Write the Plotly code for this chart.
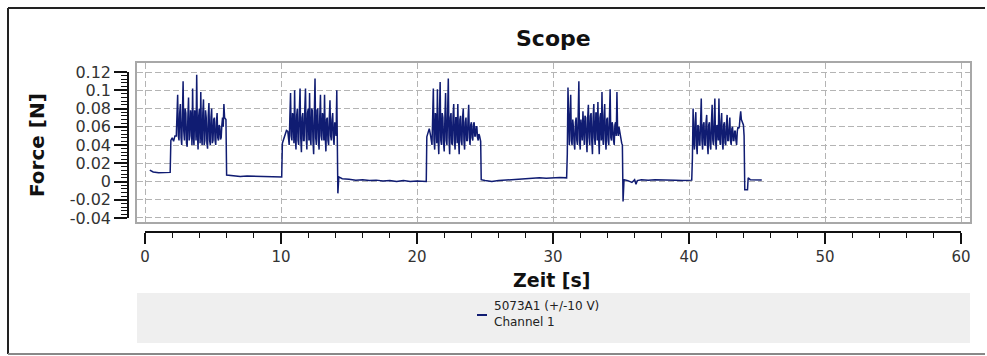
import plotly.graph_objects as go

# ---- data ----
SAMPLE_DT = 0.05  # scope sample period inside the bursts [s]

# quiet stretches and edges: (time [s], force [N])
quiet0 = [(0.35, 0.0125), (0.6, 0.0105), (1.0, 0.0095), (1.5, 0.0095), (1.85, 0.0100)]
rise1 = [(1.9, 0.045), (2.0, 0.048), (2.1, 0.044), (2.2, 0.050)]
drop1 = [(5.95, 0.068)]
quiet1 = [(6.0, 0.007), (6.5, 0.0065), (7.0, 0.0055), (7.5, 0.006), (8.0, 0.0058),
          (8.5, 0.0052), (9.0, 0.0055), (9.5, 0.005), (10.05, 0.005)]
rise2 = [(10.1, 0.042), (10.2, 0.046), (10.3, 0.050), (10.4, 0.056)]
drop2 = [(14.15, 0.040), (14.18, -0.013)]
quiet2 = [(14.25, 0.005), (14.5, 0.003), (15.0, 0.0025), (15.5, 0.0015), (16.0, 0.002),
          (16.5, 0.001), (17.0, 0.0015), (17.5, 0.0005), (18.0, 0.001), (18.5, 0.0),
          (19.0, 0.001), (19.5, 0.0), (20.0, 0.0005), (20.68, 0.0)]
rise3 = [(20.72, 0.049), (20.8, 0.052), (20.9, 0.058), (21.0, 0.050)]
drop3 = [(24.68, 0.044)]
quiet3 = [(24.72, 0.002), (25.0, 0.001), (25.5, 0.0), (26.0, 0.001), (26.5, 0.0015),
          (27.0, 0.002), (27.5, 0.0025), (28.0, 0.003), (28.5, 0.0035), (29.0, 0.004),
          (29.5, 0.0035), (30.0, 0.004), (30.5, 0.0045), (31.0, 0.004)]
rise4 = [(31.05, 0.030)]
drop4 = [(35.15, -0.022)]
quiet4 = [(35.22, 0.002), (35.5, 0.001), (35.8, -0.001), (36.0, 0.002), (36.1, -0.003),
          (36.2, 0.001), (36.5, 0.002), (37.0, 0.0015), (37.5, 0.002), (38.0, 0.002),
          (38.5, 0.0015), (39.0, 0.0015), (39.5, 0.001), (40.2, 0.0015)]
rise5 = [(40.25, 0.026)]
drop5 = [(44.1, -0.009), (44.3, -0.009)]
quiet5 = [(44.35, 0.004), (44.5, 0.002), (45.0, 0.0017), (45.35, 0.0017)]

# oscillating parts of the bursts, sampled every SAMPLE_DT from the given start time
osc1_start = 2.30
osc1 = [0.050, 0.070, 0.095, 0.050, 0.045, 0.075, 0.085, 0.048, 0.040, 0.072,
        0.110, 0.055, 0.045, 0.080, 0.075, 0.042, 0.038, 0.070, 0.092, 0.045,
        0.050, 0.078, 0.070, 0.040, 0.102, 0.050, 0.040, 0.078, 0.075, 0.045,
        0.117, 0.055, 0.035, 0.072, 0.080, 0.042, 0.098, 0.050, 0.040, 0.075,
        0.090, 0.040, 0.045, 0.078, 0.070, 0.042, 0.036, 0.072, 0.086, 0.045,
        0.040, 0.070, 0.080, 0.042, 0.045, 0.068, 0.070, 0.045, 0.040, 0.065,
        0.075, 0.048, 0.045, 0.062, 0.060, 0.046, 0.048, 0.062, 0.070, 0.060,
        0.085, 0.070, 0.068]
osc2_start = 10.50
osc2 = [0.055, 0.048, 0.040, 0.070, 0.097, 0.050, 0.045, 0.075, 0.070, 0.042,
        0.100, 0.050, 0.035, 0.072, 0.080, 0.045, 0.040, 0.078, 0.102, 0.048,
        0.032, 0.070, 0.075, 0.045, 0.045, 0.080, 0.102, 0.050, 0.035, 0.075,
        0.080, 0.045, 0.097, 0.048, 0.040, 0.080, 0.078, 0.045, 0.030, 0.075,
        0.113, 0.048, 0.040, 0.078, 0.080, 0.045, 0.035, 0.072, 0.095, 0.050,
        0.045, 0.075, 0.070, 0.045, 0.095, 0.050, 0.033, 0.068, 0.070, 0.045,
        0.040, 0.070, 0.089, 0.050, 0.045, 0.068, 0.075, 0.048, 0.040, 0.065,
        0.060, 0.050, 0.100]
osc3_start = 21.10
osc3 = [0.040, 0.070, 0.102, 0.045, 0.035, 0.075, 0.070, 0.042, 0.101, 0.048,
        0.030, 0.072, 0.109, 0.045, 0.040, 0.075, 0.070, 0.042, 0.033, 0.070,
        0.097, 0.045, 0.040, 0.075, 0.113, 0.048, 0.030, 0.070, 0.075, 0.042,
        0.040, 0.072, 0.085, 0.045, 0.035, 0.070, 0.070, 0.042, 0.085, 0.048,
        0.030, 0.068, 0.072, 0.045, 0.040, 0.070, 0.080, 0.045, 0.035, 0.065,
        0.070, 0.045, 0.045, 0.068, 0.084, 0.048, 0.040, 0.062, 0.065, 0.048,
        0.045, 0.062, 0.065, 0.050, 0.050, 0.060, 0.060, 0.048, 0.045, 0.052,
        0.050]
osc4_start = 31.10
osc4 = [0.103, 0.050, 0.040, 0.070, 0.095, 0.045, 0.040, 0.068, 0.060, 0.042,
        0.035, 0.065, 0.070, 0.045, 0.040, 0.072, 0.110, 0.045, 0.035, 0.068,
        0.060, 0.045, 0.077, 0.048, 0.040, 0.072, 0.070, 0.045, 0.032, 0.070,
        0.084, 0.048, 0.040, 0.072, 0.075, 0.045, 0.030, 0.070, 0.085, 0.048,
        0.040, 0.075, 0.075, 0.045, 0.087, 0.050, 0.030, 0.070, 0.075, 0.045,
        0.098, 0.050, 0.040, 0.072, 0.085, 0.045, 0.035, 0.068, 0.070, 0.045,
        0.040, 0.070, 0.101, 0.048, 0.045, 0.065, 0.060, 0.045, 0.040, 0.062,
        0.065, 0.050, 0.098, 0.055, 0.050, 0.060, 0.055, 0.048, 0.045, 0.042,
        0.040]
osc5_start = 40.30
osc5 = [0.080, 0.045, 0.035, 0.065, 0.076, 0.040, 0.030, 0.062, 0.060, 0.040,
        0.040, 0.065, 0.091, 0.045, 0.035, 0.062, 0.065, 0.040, 0.040, 0.065,
        0.073, 0.042, 0.030, 0.062, 0.065, 0.040, 0.035, 0.065, 0.084, 0.045,
        0.040, 0.065, 0.091, 0.045, 0.035, 0.062, 0.060, 0.045, 0.091, 0.048,
        0.040, 0.065, 0.075, 0.042, 0.035, 0.062, 0.065, 0.042, 0.040, 0.062,
        0.073, 0.045, 0.045, 0.060, 0.070, 0.045, 0.040, 0.058, 0.060, 0.045,
        0.045, 0.055, 0.055, 0.045, 0.040, 0.055, 0.060, 0.058, 0.060, 0.070,
        0.077, 0.068, 0.065, 0.063, 0.062, 0.050]

x_ticks = [0, 10, 20, 30, 40, 50, 60]
y_ticks = [-0.04, -0.02, 0, 0.02, 0.04, 0.06, 0.08, 0.1, 0.12]
y_tick_labels = ["-0.04", "-0.02", "0", "0.02", "0.04", "0.06", "0.08", "0.1", "0.12"]

legend_lines = ["5073A1 (+/-10 V)", "Channel 1"]


def osc_points(start, values):
    return [(round(start + i * SAMPLE_DT, 3), v) for i, v in enumerate(values)]


segments = [quiet0, rise1, osc_points(osc1_start, osc1), drop1, quiet1,
            rise2, osc_points(osc2_start, osc2), drop2, quiet2,
            rise3, osc_points(osc3_start, osc3), drop3, quiet3,
            rise4, osc_points(osc4_start, osc4), drop4, quiet4,
            rise5, osc_points(osc5_start, osc5), drop5, quiet5]

t_all = [p[0] for seg in segments for p in seg]
f_all = [p[1] for seg in segments for p in seg]

# ---- figure geometry (pixels) ----
W, H = 987, 356


def px(x):
    return x / W


def py(y):
    return (H - y) / H


FONT = "DejaVu Sans, Verdana, sans-serif"
LINE_COLOR = "#101c72"

fig = go.Figure()
fig.add_trace(go.Scatter(x=t_all, y=f_all, mode="lines", name="<br>".join(legend_lines),
                         line=dict(color=LINE_COLOR, width=1.5), showlegend=False))
# invisible carrier for the display axes
fig.add_trace(go.Scatter(x=[x_ticks[0], x_ticks[-1]], y=[y_ticks[0], y_ticks[-1]],
                         xaxis="x2", yaxis="y2", mode="markers",
                         marker=dict(opacity=0), hoverinfo="skip", showlegend=False))

fig.update_layout(
    width=W, height=H, margin=dict(l=0, r=0, t=0, b=0, pad=0, autoexpand=False),
    paper_bgcolor="white", plot_bgcolor="rgba(0,0,0,0)",
    xaxis=dict(domain=[px(137), px(970)], range=[-0.59, 60.66], showgrid=True, automargin=False,
               gridcolor="#b4b4b4", griddash="6px,3px", gridwidth=1,
               tickvals=x_ticks, showticklabels=False, ticks="", zeroline=False,
               showline=True, mirror=True, linecolor="#a8a8a8", linewidth=2),
    yaxis=dict(domain=[py(222), py(63)], range=[-0.0444, 0.1299], showgrid=True, automargin=False,
               gridcolor="#b4b4b4", griddash="6px,3px", gridwidth=1,
               tickvals=y_ticks, showticklabels=False, ticks="", zeroline=False,
               showline=True, mirror=True, linecolor="#a8a8a8", linewidth=2),
    xaxis2=dict(domain=[px(145), px(961)], range=[0, 60], anchor="free", position=py(232),
                automargin=False, showgrid=False, zeroline=False, showline=True,
                linecolor="#111", linewidth=1.5, ticks="outside", ticklen=11, tickwidth=1.5,
                tickcolor="#111", tickvals=x_ticks, ticktext=[str(v) for v in x_ticks],
                tickfont=dict(family=FONT, size=15, color="#333"),
                minor=dict(dtick=2, tick0=0, ticks="outside", ticklen=5, tickcolor="#111",
                           tickwidth=1.2, showgrid=False)),
    yaxis2=dict(domain=[py(218), py(72)], range=[-0.04, 0.12], anchor="free", position=px(128),
                automargin=False, side="left", showgrid=False, zeroline=False, showline=True,
                linecolor="#111", linewidth=1.5, ticks="outside", ticklen=13, tickwidth=1.5,
                tickcolor="#111", tickvals=y_ticks, ticktext=y_tick_labels,
                tickfont=dict(family=FONT, size=16, color="#333"),
                minor=dict(dtick=0.004, tick0=0, ticks="outside", ticklen=6, tickcolor="#111",
                           tickwidth=1, showgrid=False)),
)

shapes = [
    dict(type="rect", xref="paper", yref="paper", x0=px(137), x1=px(970), y0=py(343), y1=py(293),
         fillcolor="#efefef", line=dict(width=0), layer="below"),
    dict(type="line", xref="paper", yref="paper", x0=px(477), x1=px(487), y0=py(315), y1=py(315),
         line=dict(color=LINE_COLOR, width=2)),
    dict(type="line", xref="paper", yref="paper", x0=px(8), x1=px(8), y0=py(8), y1=py(354),
         line=dict(color="#222", width=2)),
    dict(type="line", xref="paper", yref="paper", x0=px(8), x1=px(985), y0=py(8), y1=py(8),
         line=dict(color="#222", width=2)),
    dict(type="line", xref="paper", yref="paper", x0=px(8), x1=px(985), y0=py(354), y1=py(354),
         line=dict(color="#888", width=2)),
]

annotations = [
    dict(text="<b>Scope</b>", x=px(553), y=py(38), xref="paper", yref="paper", showarrow=False,
         font=dict(family=FONT, size=22, color="#111"), xanchor="center", yanchor="middle"),
    dict(text="<b>Force [N]</b>", x=px(37), y=py(145), xref="paper", yref="paper", showarrow=False,
         textangle=-90, font=dict(family=FONT, size=20, color="#111"),
         xanchor="center", yanchor="middle"),
    dict(text="<b>Zeit [s]</b>", x=px(552), y=py(280), xref="paper", yref="paper", showarrow=False,
         font=dict(family=FONT, size=19, color="#111"), xanchor="center", yanchor="middle"),
    dict(text="<br>".join(legend_lines), x=px(492), y=py(314), xref="paper", yref="paper",
         showarrow=False, align="left", font=dict(family=FONT, size=12, color="#222"),
         xanchor="left", yanchor="middle"),
]
fig.update_layout(shapes=shapes, annotations=annotations)

fig.write_html("out.html", config={"displayModeBar": False},
               post_script="document.body.style.margin='0';document.body.style.overflow='hidden';")
